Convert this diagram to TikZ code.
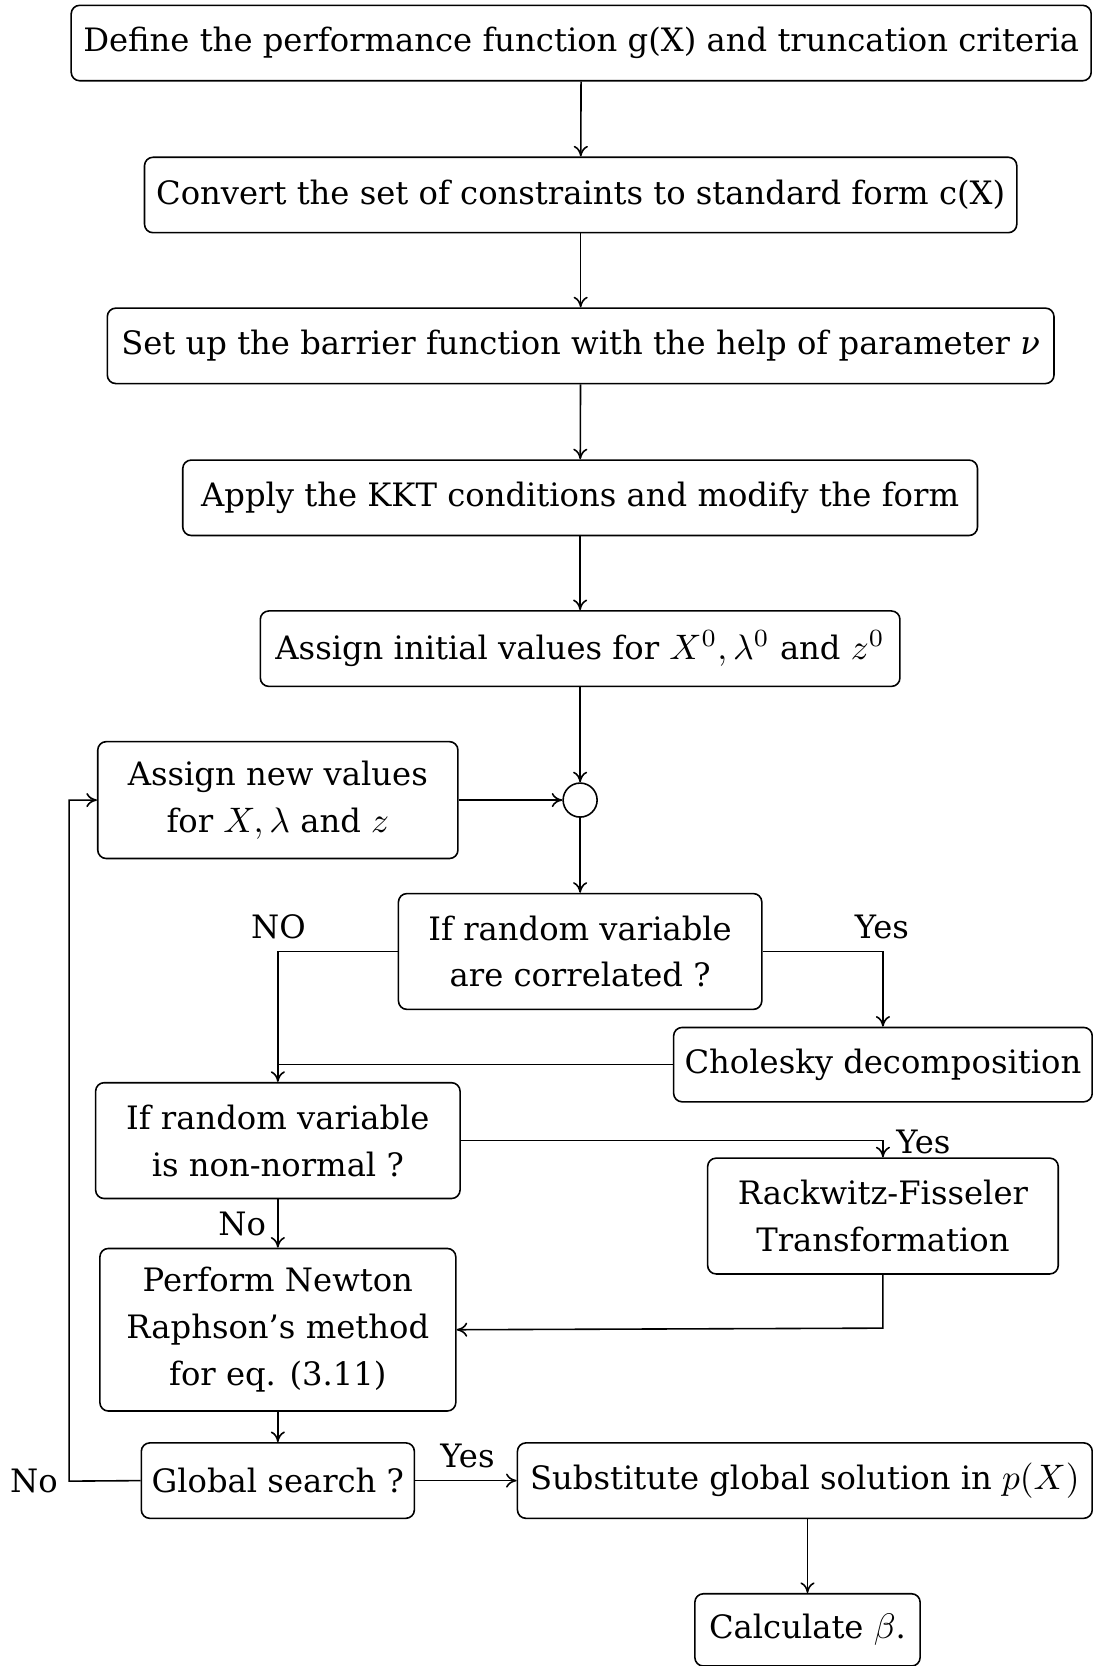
\documentclass[tikz,border=0pt]{standalone}
\usepackage{fontspec}
\setmainfont{DejaVu Serif}
\DeclareMathSizes{9.1}{10.2}{7.2}{5.2}
\usetikzlibrary{arrows.meta}
\begin{document}
\begin{tikzpicture}[x=0.3pt,y=-0.3pt,
  font=\fontsize{9.1}{13.2}\selectfont,
  box/.style={draw,rounded corners=2.4pt,align=center,inner sep=0pt,line width=0.45pt},
  lbl/.style={inner sep=0pt},
  flow/.style={-{To[length=3pt,width=4pt]},line width=0.45pt},
  plain/.style={line width=0.45pt}]
\useasboundingbox (0,0) rectangle (1028,1568);
% main column
\node[box,minimum width=288pt,minimum height=21.3pt] (def) at (547,40.5) {Define the performance function g(X) and truncation criteria};
\node[box,minimum width=246.3pt,minimum height=21.3pt] (conv) at (546.5,183.5) {Convert the set of constraints to standard form c(X)};
\node[box,minimum width=267.3pt,minimum height=21.3pt] (barr) at (546.5,325.5) {Set up the barrier function with the help of parameter \textit{ν}};
\node[box,minimum width=224.4pt,minimum height=21.3pt] (kkt) at (546,468.5) {Apply the KKT conditions and modify the form};
\node[box,minimum width=180.6pt,minimum height=21.3pt] (init) at (546,610.5) {Assign initial values for $X^0,\lambda^0$ and $z^0$};
\node[draw,circle,minimum size=9.6pt,inner sep=0pt,line width=0.45pt] (join) at (546,753) {};
\node[box,minimum width=101.7pt,minimum height=33pt] (new) at (261.5,753) {Assign new values\\for $X,\lambda$ and $z$};
\node[box,minimum width=102.6pt,minimum height=32.7pt] (corr) at (546,895.5) {If random variable\\are correlated ?};
\node[box,minimum width=118.2pt,minimum height=21pt] (chol) at (831,1002) {Cholesky decomposition};
\node[box,minimum width=102.9pt,minimum height=32.7pt] (nonn) at (261.5,1073.5) {If random variable\\is non-normal ?};
\node[box,minimum width=99pt,minimum height=32.7pt] (rf) at (831,1144.5) {Rackwitz-Fisseler\\Transformation};
\node[box,minimum width=100.5pt,minimum height=45.9pt] (nr) at (261.5,1251.5) {Perform Newton\\Raphson's method\\for eq. (3.11)};
\node[box,minimum width=77.1pt,minimum height=21.3pt] (glob) at (261.5,1393.5) {Global search ?};
\node[box,minimum width=162.3pt,minimum height=21.3pt] (subs) at (757.5,1393.5) {Substitute global solution in $p(X)$};
\node[box,minimum width=63.6pt,minimum height=20.4pt] (beta) at (760,1534) {Calculate $\beta$.};
% branch labels
\node[lbl] (lno1) at (262,872) {NO};
\node[lbl] (lyes1) at (830,872) {Yes};
\node[lbl] (lyes2) at (869,1075) {Yes};
\node[lbl] (lno2) at (228,1152) {No};
\node[lbl] (lyes3) at (440,1370) {Yes};
\node[lbl] (lno3) at (32,1394) {No};
\coordinate (loop) at (65,1394);
\coordinate (rfturn) at (831,1250);
% connectors
\draw[flow] (def) -- (conv);
\draw[flow] (conv) -- (barr);
\draw[flow] (barr) -- (kkt);
\draw[flow] (kkt) -- (init);
\draw[flow] (init) -- (join);
\draw[flow] (new) -- (join);
\draw[flow] (join) -- (corr);
\draw[flow] (corr.west) -| (nonn.north);
\draw[flow] (corr.east) -| (chol.north);
\draw[plain] (chol.west) -- (chol.west -| nonn.north);
\draw[flow] (nonn.east) -| (rf.north);
\draw[flow] (nonn) -- (nr);
\draw[flow] (rf.south) -- (rfturn) -- (nr.east);
\draw[flow] (nr) -- (glob);
\draw[flow] (glob) -- (subs);
\draw[flow] (glob.west) -- (loop) |- (new.west);
\draw[flow] (subs.south -| beta.north) -- (beta.north);
\end{tikzpicture}
\end{document}
